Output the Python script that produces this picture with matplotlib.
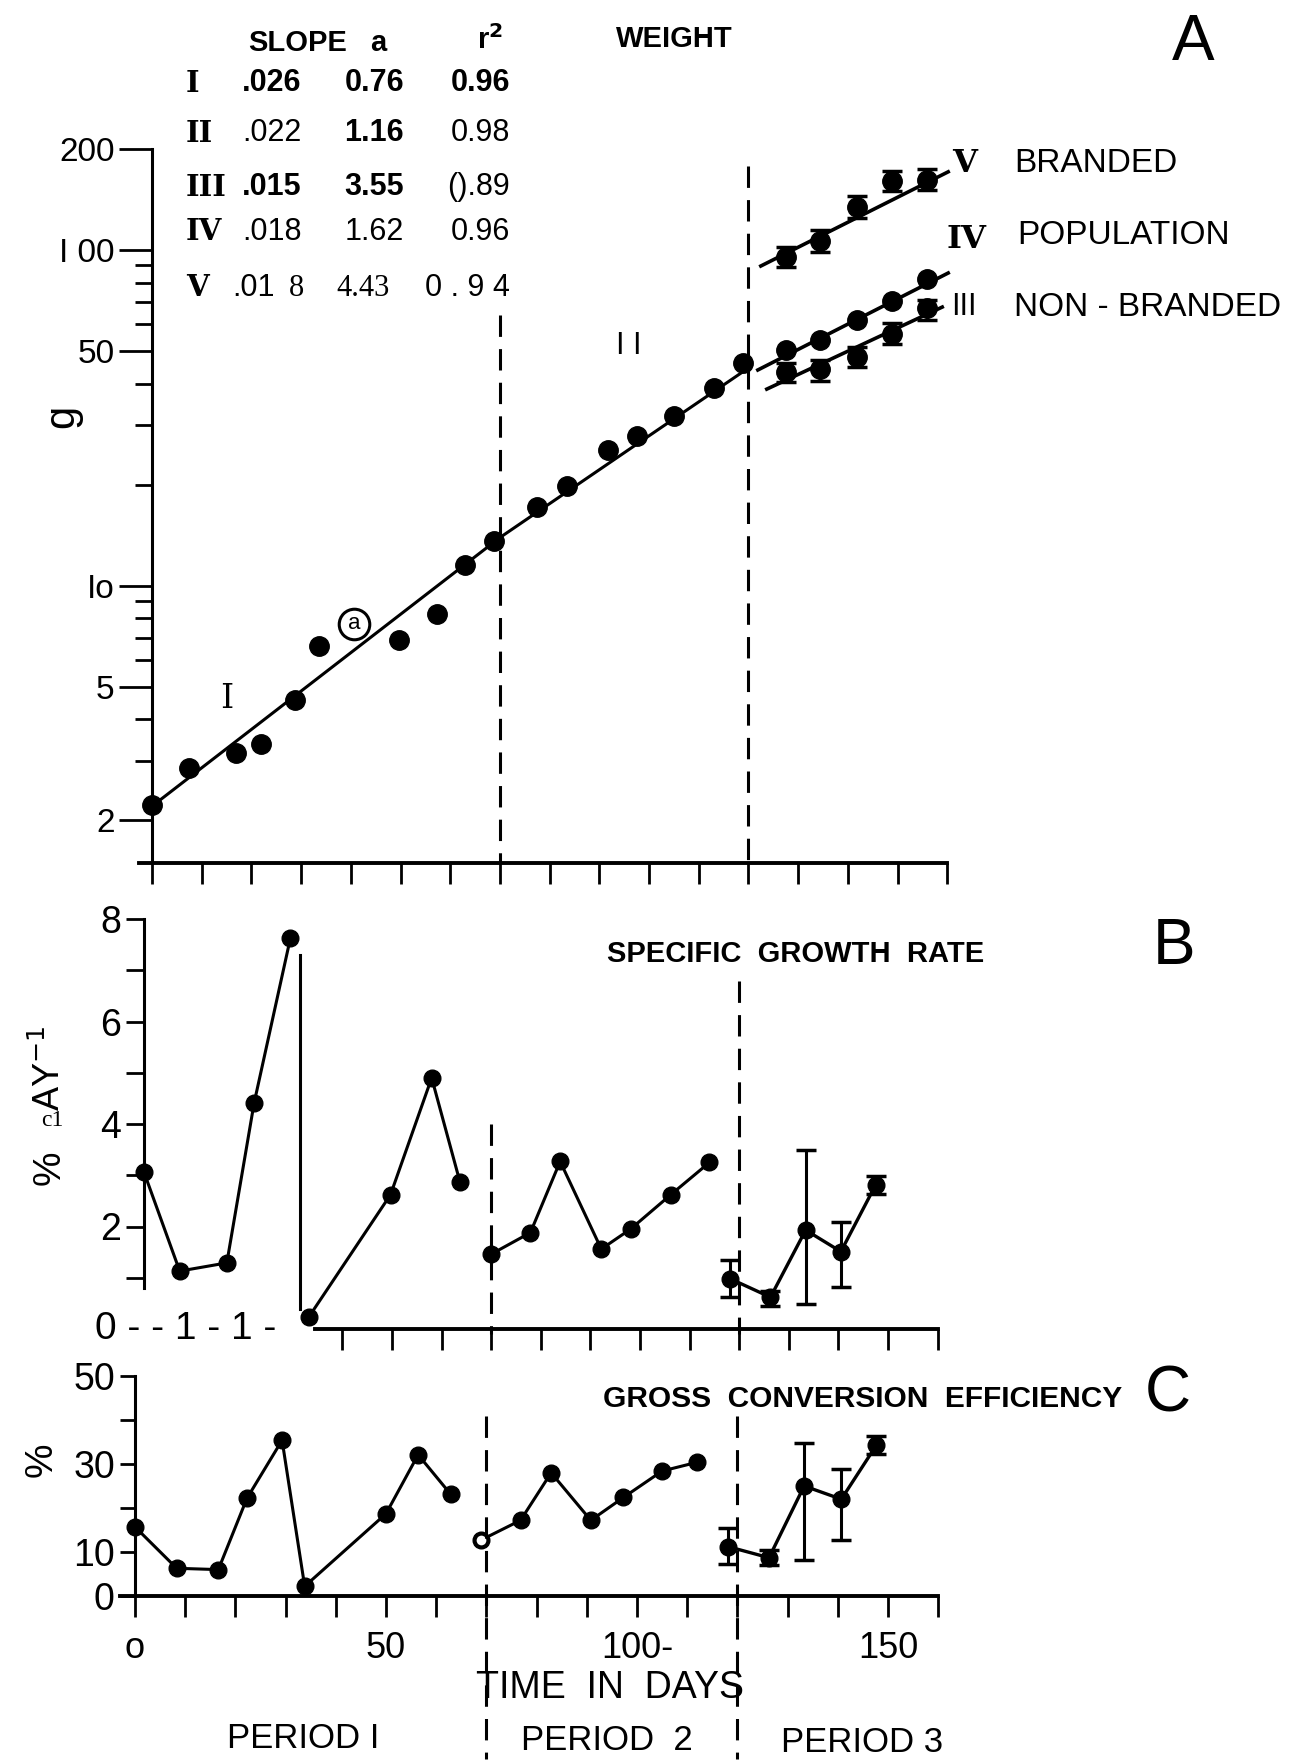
import numpy as np
import matplotlib.pyplot as plt

plt.rcParams['font.family'] = ['Liberation Sans', 'DejaVu Sans']

# ---------------- panel A : weight (g), log axis ----------------
pop_days = [0, 7.4, 16.9, 21.9, 28.8, 33.6, 49.7, 57.3, 63, 68.8, 77.5, 83.5, 91.7, 97.6, 105, 113, 119]
pop_weight = [2.22, 2.86, 3.17, 3.37, 4.56, 6.6, 6.9, 8.2, 11.5, 13.6, 17.1, 19.8, 25.4, 27.9, 32, 38.8, 46]
marked_day = [40.6]
marked_weight = [7.7]
fit_days = [0, 70, 120]
fit_weight = [2.2, 13.9, 44.5]

p3_days = [127.5, 134.5, 141.8, 148.8, 156]
branded = [95.3, 106.6, 134.5, 161, 162]
branded_lo = [89, 98.6, 124.5, 150, 151]
branded_hi = [102, 114.8, 144.8, 172, 174]
population = [50.3, 54, 61.8, 70.5, 82]
nonbranded = [43.2, 44.1, 48, 56.3, 67.1]
nonbranded_lo = [40.5, 40.8, 44.8, 52.6, 62.0]
nonbranded_hi = [46.0, 46.9, 51.3, 60.4, 71.2]
v_fit_days = [122.5, 160.2]
v_fit = [89.6, 171]
iv_fit_days = [121.9, 160.2]
iv_fit = [43.9, 85.4]
iii_fit_days = [123.7, 159]
iii_fit = [38.5, 67.6]

table_rows = ["I", "II", "III", "IV", "V"]
table_slope = [".026", ".022", ".015", ".018", ".01"]
table_a = ["0.76", "1.16", "3.55", "1.62", "4.43"]
table_r2 = ["0.96", "0.98", "().89", "0.96", "0 . 9 4"]

# ---------------- panel B : specific growth rate ----------------
b_days = [0, 7.2, 16.7, 22.2, 29.5, 33.2, 49.7, 58, 63.7, 70, 77.9, 83.9, 92.2, 98.1, 106.2, 114]
b_rate = [3.06, 1.13, 1.29, 4.41, 7.62, 0.23, 2.62, 4.9, 2.87, 1.46, 1.88, 3.27, 1.56, 1.95, 2.62, 3.25]
b_group = [1, 1, 1, 1, 1, 2, 2, 2, 2, 3, 3, 3, 3, 3, 3, 3]
b3_days = [118.2, 126.3, 133.4, 140.5, 147.5]
b3_rate = [0.98, 0.62, 1.93, 1.51, 2.81]
b3_lo = [0.62, 0.45, 0.49, 0.82, 2.64]
b3_hi = [1.34, 0.75, 3.49, 2.09, 2.98]

# ---------------- panel C : gross conversion efficiency ----------------
c_days = [0, 8.3, 16.6, 22.3, 29.3, 33.8, 50, 56.4, 62.9, 68.9, 76.8, 82.9, 90.8, 97.3, 105, 112]
c_eff = [15.7, 6.3, 6.0, 22.2, 35.4, 2.2, 18.7, 32.1, 23.1, 12.7, 17.2, 28.0, 17.2, 22.4, 28.4, 30.4]
c_group = [1, 1, 1, 1, 1, 1, 1, 1, 1, 2, 2, 2, 2, 2, 2, 2]
c3_days = [118.2, 126.3, 133.3, 140.7, 147.7]
c3_eff = [11.2, 8.7, 25.0, 22.0, 34.3]
c3_lo = [7.2, 7.1, 8.2, 12.7, 32.3]
c3_hi = [15.4, 10.4, 34.7, 28.9, 36.3]

period_bounds = [70, 120]

W, H = 1294, 1761
fig = plt.figure(figsize=(W / 100, H / 100), dpi=100)


def px_axes(day0, pxday, ybot, ytop):
    left = day0 - 3 * pxday
    return fig.add_axes([left / W, 1 - ybot / H, 173 * pxday / W, (ybot - ytop) / H])


def ftext(x, y, s, **kw):
    kw.setdefault('va', 'center')
    fig.text(x / W, 1 - y / H, s, **kw)


def style(ax):
    for s in ['top', 'right']:
        ax.spines[s].set_visible(False)
    ax.spines['left'].set_position(('data', 0))
    ax.spines['left'].set_linewidth(2.2)
    ax.spines['bottom'].set_linewidth(2.8)
    ax.tick_params(which='both', direction='out', width=2, colors='k', labelsize=24)
    ax.tick_params(axis='x', length=15, labelbottom=False)
    ax.set_xlim(-3, 170)
    ax.patch.set_alpha(0)


dash = (0, (7, 4))

# ---------- A ----------
axA = px_axes(152, 4.97, 863, 149)
style(axA)
axA.set_yscale('log')
axA.set_ylim(1.49, 200)
axA.spines['bottom'].set_bounds(-2.6, 160)
axA.set_xticks(np.arange(0, 161, 10))
axA.set_yticks([2, 5, 10, 50, 100, 200])
axA.set_yticklabels(['2', '5', 'Io', '50', 'I 00', '200'])
axA.set_yticks([3, 4, 6, 7, 8, 9, 20, 30, 40, 60, 70, 80, 90], minor=True)
axA.yaxis.set_minor_formatter(plt.NullFormatter())
axA.tick_params(axis='y', which='major', length=24, pad=3)
axA.tick_params(axis='y', which='minor', length=12)

axA.plot(fit_days, fit_weight, 'k-', lw=2.2)
axA.plot(pop_days, pop_weight, 'ko', ms=14, clip_on=False, zorder=4)
axA.plot(marked_day, marked_weight, 'o', mfc='white', mec='k', mew=2.2, ms=22)
axA.text(marked_day[0], marked_weight[0], 'a', ha='center', va='center', fontsize=16)
for fd, fv in [(v_fit_days, v_fit), (iv_fit_days, iv_fit), (iii_fit_days, iii_fit)]:
    axA.plot(fd, fv, 'k-', lw=2.6, clip_on=False)
axA.errorbar(p3_days, branded, yerr=[np.subtract(branded, branded_lo), np.subtract(branded_hi, branded)],
             fmt='o', color='k', ms=14, capsize=7, capthick=2.5, elinewidth=2.5)
axA.errorbar(p3_days, nonbranded, yerr=[np.subtract(nonbranded, nonbranded_lo), np.subtract(nonbranded_hi, nonbranded)],
             fmt='o', color='k', ms=14, capsize=7, capthick=2.5, elinewidth=2.5)
axA.plot(p3_days, population, 'ko', ms=14)
axA.plot([period_bounds[0]] * 2, [64, 1.49], color='k', lw=2.2, ls=dash)
axA.plot([period_bounds[1]] * 2, [178, 1.49], color='k', lw=2.2, ls=dash)

axA.text(96, 51.7, 'I I', fontsize=22, ha='center', va='center')
axA.text(15, 4.6, 'I', fontsize=24, family='DejaVu Serif', ha='center', va='center')

ftext(62, 416, 'g', fontsize=30, rotation=90, ha='center')
ftext(248, 43, 'SLOPE', fontsize=21, fontweight='bold', ha='left')
ftext(378, 43, 'a', fontsize=21, fontweight='bold', ha='center')
ftext(490, 40, 'r$^{\\mathbf{2}}$', fontsize=21, fontweight='bold', ha='center')
ftext(616, 39, 'WEIGHT', fontsize=21, fontweight='bold', ha='left')
ftext(1193, 43, 'A', fontsize=46, ha='center')

row_y = [83, 133, 187, 232, 288]
for i, r in enumerate(table_rows):
    ftext(186, row_y[i], r, fontsize=21, family='DejaVu Serif', fontweight='bold', ha='left')
    ftext(232 if i == 4 else 242, row_y[i], table_slope[i], fontsize=22, ha='left',
          fontweight='bold' if i in (0, 2) else 'normal')
    ftext(390 if i == 4 else 404, row_y[i], table_a[i], fontsize=22, ha='right',
          fontweight='bold' if i in (0, 1, 2) else 'normal',
          family='Liberation Serif' if i == 4 else None)
    ftext(510, row_y[i], table_r2[i], fontsize=22, ha='right',
          fontweight='bold' if i == 0 else 'normal')
ftext(296, row_y[4], '8', fontsize=22, family='Liberation Serif', ha='center')

ftext(965, 163, 'V', fontsize=23, family='DejaVu Serif', fontweight='bold', ha='center')
ftext(1014, 163, 'BRANDED', fontsize=24, ha='left')
ftext(966, 240, 'IV', fontsize=23, family='DejaVu Serif', fontweight='bold', ha='center')
ftext(1017, 236, 'POPULATION', fontsize=24, ha='left')
ftext(964, 307, 'III', fontsize=22, ha='center')
ftext(1014, 307, 'NON - BRANDED', fontsize=24, ha='left')

# ---------- B ----------
axB = px_axes(144, 4.96, 1329, 919)
style(axB)
axB.set_ylim(0, 8)
axB.spines['left'].set_bounds(0.8, 8)
axB.spines['bottom'].set_bounds(34.4, 160)
axB.set_xticks(np.arange(40, 161, 10))
axB.set_yticks([2, 4, 6, 8])
axB.set_yticks([1, 3, 5, 7], minor=True)
axB.tick_params(axis='y', which='both', length=13, labelsize=27)
for g in sorted(set(b_group)):
    idx = [i for i, v in enumerate(b_group) if v == g]
    axB.plot([b_days[i] for i in idx], [b_rate[i] for i in idx], 'k-o', ms=12, lw=2.2, clip_on=False)
axB.plot([31.5, 31.5], [7.29, 0.39], 'k-', lw=2.2)
axB.errorbar(b3_days, b3_rate, yerr=[np.subtract(b3_rate, b3_lo), np.subtract(b3_hi, b3_rate)],
             fmt='-o', color='k', ms=12, lw=2.4, capsize=7, capthick=2.5, elinewidth=2.2)
axB.plot([period_bounds[0]] * 2, [4.0, -0.1], color='k', lw=2.2, ls=dash, clip_on=False)
axB.plot([period_bounds[1]] * 2, [6.8, -0.1], color='k', lw=2.2, ls=dash, clip_on=False)

ftext(95, 1329, '0 - - 1 - 1 -', fontsize=28, ha='left')
ftext(607, 954, 'SPECIFIC  GROWTH  RATE', fontsize=21, fontweight='bold', ha='left')
ftext(1174, 947, 'B', fontsize=46, ha='center')
ftext(50, 1168, '%', fontsize=28, rotation=90, ha='center')
ftext(52, 1120, 'c1', fontsize=17, family='Liberation Serif', ha='center')
ftext(50, 1068, 'AY$^{-1}$', fontsize=26, rotation=90, ha='center')

# ---------- C ----------
axC = px_axes(135, 5.02, 1596, 1376)
style(axC)
axC.set_ylim(0, 50)
axC.spines['bottom'].set_bounds(-3, 160)
axC.set_xticks(np.arange(0, 161, 10))
axC.set_yticks(np.arange(0, 51, 10))
axC.set_yticklabels(['0', '10', '', '30', '', '50'])
axC.tick_params(axis='y', length=11, labelsize=27)
for g in sorted(set(c_group)):
    idx = [i for i, v in enumerate(c_group) if v == g]
    axC.plot([c_days[i] for i in idx], [c_eff[i] for i in idx], 'k-o', ms=12, lw=2.2, clip_on=False)
axC.plot(c_days[9], c_eff[9], 'o', mfc='white', mec='k', mew=2, ms=9)
axC.errorbar(c3_days, c3_eff, yerr=[np.subtract(c3_eff, c3_lo), np.subtract(c3_hi, c3_eff)],
             fmt='-o', color='k', ms=12, lw=2.4, capsize=7, capthick=2.5, elinewidth=2.2)
axC.plot([period_bounds[0]] * 2, [41, -37], color='k', lw=2.2, ls=dash, clip_on=False)
axC.plot([period_bounds[1]] * 2, [41, -37], color='k', lw=2.2, ls=dash, clip_on=False)
for d, lab in zip([0, 50, 100, 150], ['o', '50', '100-', '150']):
    axC.text(d, -12, lab, fontsize=26, ha='center', va='center')

ftext(603, 1399, 'GROSS  CONVERSION  EFFICIENCY', fontsize=21.5, fontweight='bold', ha='left')
ftext(1168, 1395, 'C', fontsize=46, ha='center')
ftext(42, 1460, '%', fontsize=28, rotation=90, ha='center')
ftext(610, 1688, 'TIME  IN  DAYS', fontsize=27, ha='center')
ftext(303, 1739, 'PERIOD I', fontsize=25, ha='center')
ftext(607, 1741, 'PERIOD  2', fontsize=25, ha='center')
ftext(862, 1743, 'PERIOD 3', fontsize=25, ha='center')

fig.savefig('out.png', dpi=100, facecolor='white')
